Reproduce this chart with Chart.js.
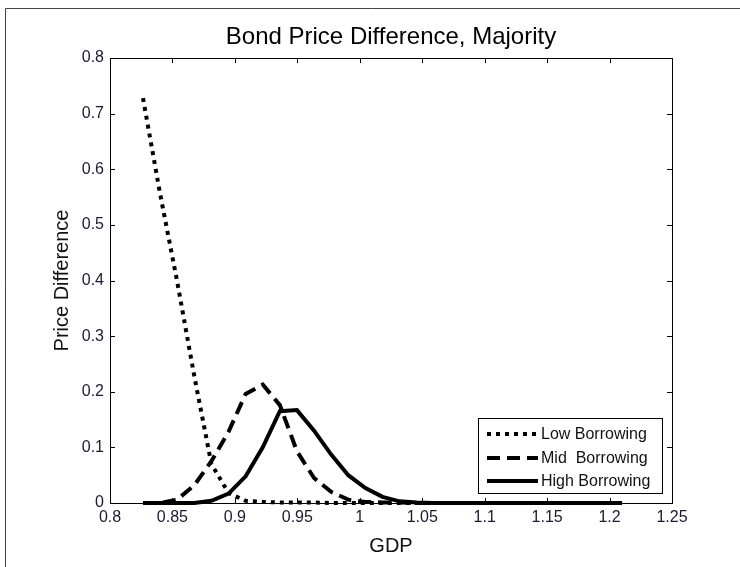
<!DOCTYPE html>
<html>
<head>
<meta charset="utf-8">
<script src="https://cdn.jsdelivr.net/npm/chart.js@4"></script>
<style>
  html, body { margin: 0; padding: 0; background: #fff; }
  #wrap { width: 740px; height: 567px; position: relative; }
</style>
</head>
<body>
<div id="wrap"><canvas id="c" width="740" height="567"></canvas></div>
<script>
const chartTitle = 'Bond Price Difference, Majority';
const xAxisLabel = 'GDP';
const yAxisLabel = 'Price Difference';
const seriesNames = ['Low Borrowing', 'Mid  Borrowing', 'High Borrowing'];

const gdp = [0.8264, 0.8401, 0.8538, 0.8675, 0.8812, 0.8949, 0.9086, 0.9223, 0.9360, 0.9497,
             0.9634, 0.9771, 0.9908, 1.0045, 1.0182, 1.0319, 1.0456, 1.0593, 1.0730, 1.0867,
             1.1004, 1.1141, 1.1278, 1.1415, 1.1552, 1.1689, 1.1826, 1.1963, 1.2100];

const lowBorrowing  = [0.728, 0.556, 0.398, 0.228, 0.070, 0.018, 0.004, 0.002, 0.001, 0.001,
                       0.001, 0, 0, 0, 0, 0, 0, 0, 0, 0,
                       0, 0, 0, 0, 0, 0, 0, 0, 0];
const midBorrowing  = [0, 0, 0.006, 0.032, 0.075, 0.128, 0.196, 0.213, 0.176, 0.093,
                       0.045, 0.020, 0.006, 0.002, 0.001, 0.001, 0, 0, 0, 0,
                       0, 0, 0, 0, 0, 0, 0, 0, 0];
const highBorrowing = [0, 0, 0, 0, 0.004, 0.017, 0.048, 0.100, 0.165, 0.167,
                       0.130, 0.087, 0.050, 0.027, 0.011, 0.003, 0.001, 0, 0, 0,
                       0, 0, 0, 0, 0, 0, 0, 0, 0];

const xTickValues = [0.8, 0.85, 0.9, 0.95, 1, 1.05, 1.1, 1.15, 1.2, 1.25];
const yTickValues = [0, 0.1, 0.2, 0.3, 0.4, 0.5, 0.6, 0.7, 0.8];

const FONT = 'Liberation Sans, Arial, Helvetica, sans-serif';
const toPoints = arr => gdp.map((x, i) => ({ x: x, y: arr[i] }));

const frameAndTicks = {
  id: 'frameAndTicks',
  beforeDraw(chart) {
    const { ctx, chartArea: a } = chart;
    ctx.save();
    ctx.fillStyle = '#fff';
    ctx.fillRect(0, 0, chart.width, chart.height);
    // figure border (left and top)
    ctx.strokeStyle = '#444';
    ctx.lineWidth = 1;
    ctx.beginPath();
    ctx.moveTo(5.5, chart.height);
    ctx.lineTo(5.5, 8.5);
    ctx.lineTo(chart.width, 8.5);
    ctx.stroke();
    // title centred over the axes
    ctx.fillStyle = '#000';
    ctx.font = '24px ' + FONT;
    ctx.textAlign = 'center';
    ctx.textBaseline = 'alphabetic';
    ctx.fillText(chartTitle, (a.left + a.right) / 2, 43.5);
    ctx.restore();
  },
  beforeDatasetsDraw(chart) {
    const { ctx, chartArea: a, scales } = chart;
    ctx.save();
    ctx.strokeStyle = '#000';
    ctx.lineWidth = 1;
    ctx.strokeRect(a.left + 0.5, a.top + 0.5, a.right - a.left, a.bottom - a.top);
    const tl = 5;
    ctx.beginPath();
    scales.x.ticks.forEach(t => {
      const px = Math.round(scales.x.getPixelForValue(t.value)) + 0.5;
      ctx.moveTo(px, a.bottom); ctx.lineTo(px, a.bottom - tl);
      ctx.moveTo(px, a.top); ctx.lineTo(px, a.top + tl);
    });
    scales.y.ticks.forEach(t => {
      const py = Math.round(scales.y.getPixelForValue(t.value)) + 0.5;
      ctx.moveTo(a.left, py); ctx.lineTo(a.left + tl, py);
      ctx.moveTo(a.right, py); ctx.lineTo(a.right - tl, py);
    });
    ctx.stroke();
    ctx.restore();
  }
};

const boxLegend = {
  id: 'boxLegend',
  afterDatasetsDraw(chart) {
    const { ctx, chartArea: a } = chart;
    const w = 184, h = 75;
    const x0 = a.right - 10 - w, y0 = a.bottom - 10 - h;
    ctx.save();
    ctx.fillStyle = '#fff';
    ctx.fillRect(Math.round(x0) + 0.5, Math.round(y0) + 0.5, w, h);
    ctx.strokeStyle = '#000';
    ctx.lineWidth = 1;
    ctx.setLineDash([]);
    ctx.strokeRect(Math.round(x0) + 0.5, Math.round(y0) + 0.5, w, h);
    const rows = [16, 40, 63];
    chart.data.datasets.forEach((ds, i) => {
      const y = y0 + rows[i];
      ctx.beginPath();
      ctx.setLineDash(ds.borderDash || []);
      ctx.lineWidth = ds.borderWidth;
      ctx.strokeStyle = ds.borderColor;
      ctx.lineCap = 'butt';
      ctx.moveTo(x0 + 9, y);
      ctx.lineTo(x0 + 60, y);
      ctx.stroke();
      ctx.setLineDash([]);
      ctx.fillStyle = '#111';
      ctx.font = '16px ' + FONT;
      ctx.textBaseline = 'middle';
      ctx.textAlign = 'left';
      ctx.fillText(ds.label, x0 + 63, y + 1);
    });
    ctx.restore();
  }
};

new Chart(document.getElementById('c'), {
  type: 'line',
  data: {
    datasets: [
      { label: seriesNames[0], data: toPoints(lowBorrowing), borderColor: '#000', borderWidth: 4,
        borderDash: [4, 5], pointRadius: 0, tension: 0, fill: false, clip: 6 },
      { label: seriesNames[1], data: toPoints(midBorrowing), borderColor: '#000', borderWidth: 4,
        borderDash: [13, 7], pointRadius: 0, tension: 0, fill: false, clip: 6 },
      { label: seriesNames[2], data: toPoints(highBorrowing), borderColor: '#000', borderWidth: 4,
        pointRadius: 0, tension: 0, fill: false, clip: 6 }
    ]
  },
  options: {
    responsive: false,
    animation: false,
    devicePixelRatio: 1,
    layout: { padding: { left: 0, right: 68, top: 58, bottom: 0 } },
    plugins: {
      legend: { display: false },
      tooltip: { enabled: false },
      title: { display: false }
    },
    scales: {
      x: {
        type: 'linear',
        min: 0.8, max: 1.25,
        afterBuildTicks: s => { s.ticks = xTickValues.map(v => ({ value: v })); },
        afterFit: s => { s.height = 64; },
        grid: { display: false, drawTicks: false, tickLength: 0 },
        border: { display: false },
        ticks: {
          autoSkip: false, maxRotation: 0,
          padding: 5,
          color: '#1a1a30',
          font: { family: FONT, size: 16 },
          callback: v => String(v)
        },
        title: {
          display: true, text: xAxisLabel, color: '#111',
          font: { family: FONT, size: 20 },
          padding: { top: 0, bottom: 9 }
        }
      },
      y: {
        type: 'linear',
        min: 0, max: 0.8,
        afterBuildTicks: s => { s.ticks = yTickValues.map(v => ({ value: v })); },
        afterFit: s => { s.width = 110; },
        grid: { display: false, drawTicks: false, tickLength: 0 },
        border: { display: false },
        ticks: {
          autoSkip: false,
          padding: 6,
          color: '#1a1a30',
          font: { family: FONT, size: 16 },
          callback: v => String(v)
        },
        title: {
          display: true, text: yAxisLabel, color: '#111',
          font: { family: FONT, size: 20 },
          padding: { top: 50, bottom: 0 }
        }
      }
    }
  },
  plugins: [frameAndTicks, boxLegend]
});
</script>
</body>
</html>
